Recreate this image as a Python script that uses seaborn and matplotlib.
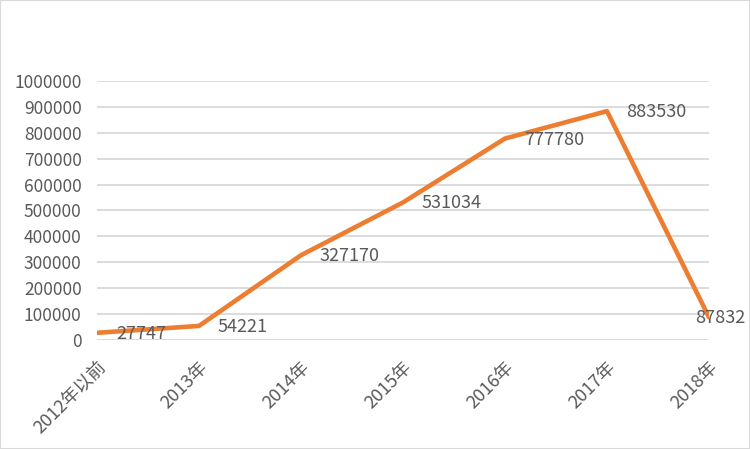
import matplotlib
matplotlib.use("Agg")
import matplotlib.pyplot as plt
import seaborn as sns
import pandas as pd
from matplotlib.patches import Rectangle

categories = ["2012年以前", "2013年", "2014年", "2015年", "2016年", "2017年", "2018年"]
values = [27747, 54221, 327170, 531034, 777780, 883530, 87832]
yticks = [0, 100000, 200000, 300000, 400000, 500000, 600000, 700000, 800000, 900000, 1000000]

sns.set_theme(style="white")
plt.rcParams['font.family'] = ['Noto Sans CJK SC', 'DejaVu Sans']

df = pd.DataFrame({"x": range(len(categories)), "v": values})

fig = plt.figure(figsize=(7.5, 4.49), dpi=100)
ax = fig.add_axes([0.1293, 0.2428, 0.9453 - 0.1293, 0.8196 - 0.2428])

for t in yticks:
    ax.axhline(t, color="#D9D9D9", lw=1.3, zorder=0)

sns.lineplot(data=df, x="x", y="v", ax=ax, color="#ED7D31", lw=3.3, zorder=3)

txt = "#595959"
fw = "light"
for i, v in enumerate(values):
    if i == len(values) - 1:
        ax.annotate(f"{v}", (i, v), xytext=(-14, -1), textcoords="offset pixels",
                    ha="left", va="center", fontsize=13, color=txt, zorder=4, fontweight=fw)
    else:
        ax.annotate(f"{v}", (i, v), xytext=(19, -1), textcoords="offset pixels",
                    ha="left", va="center", fontsize=13, color=txt, zorder=4, fontweight=fw)

ax.set_xlim(0, len(categories) - 1)
ax.set_ylim(0, 1000000)
ax.set_yticks(yticks)
ax.set_yticklabels([str(t) for t in yticks], fontsize=12.5, color=txt, fontweight=fw)
ax.set_xticks(range(len(categories)))
ax.set_xticklabels(categories, fontsize=13, color=txt, rotation=45, ha="right",
                   rotation_mode="anchor", fontweight=fw)
ax.tick_params(axis="y", length=0, pad=11)
ax.tick_params(axis="x", length=0, pad=13)
ax.set_xlabel("")
ax.set_ylabel("")
for s in ax.spines.values():
    s.set_visible(False)

fig.patches.append(Rectangle((0, 0), 1, 1, transform=fig.transFigure, fill=False,
                             edgecolor="#D9D9D9", lw=1.5))

fig.savefig("out.png", dpi=100)
